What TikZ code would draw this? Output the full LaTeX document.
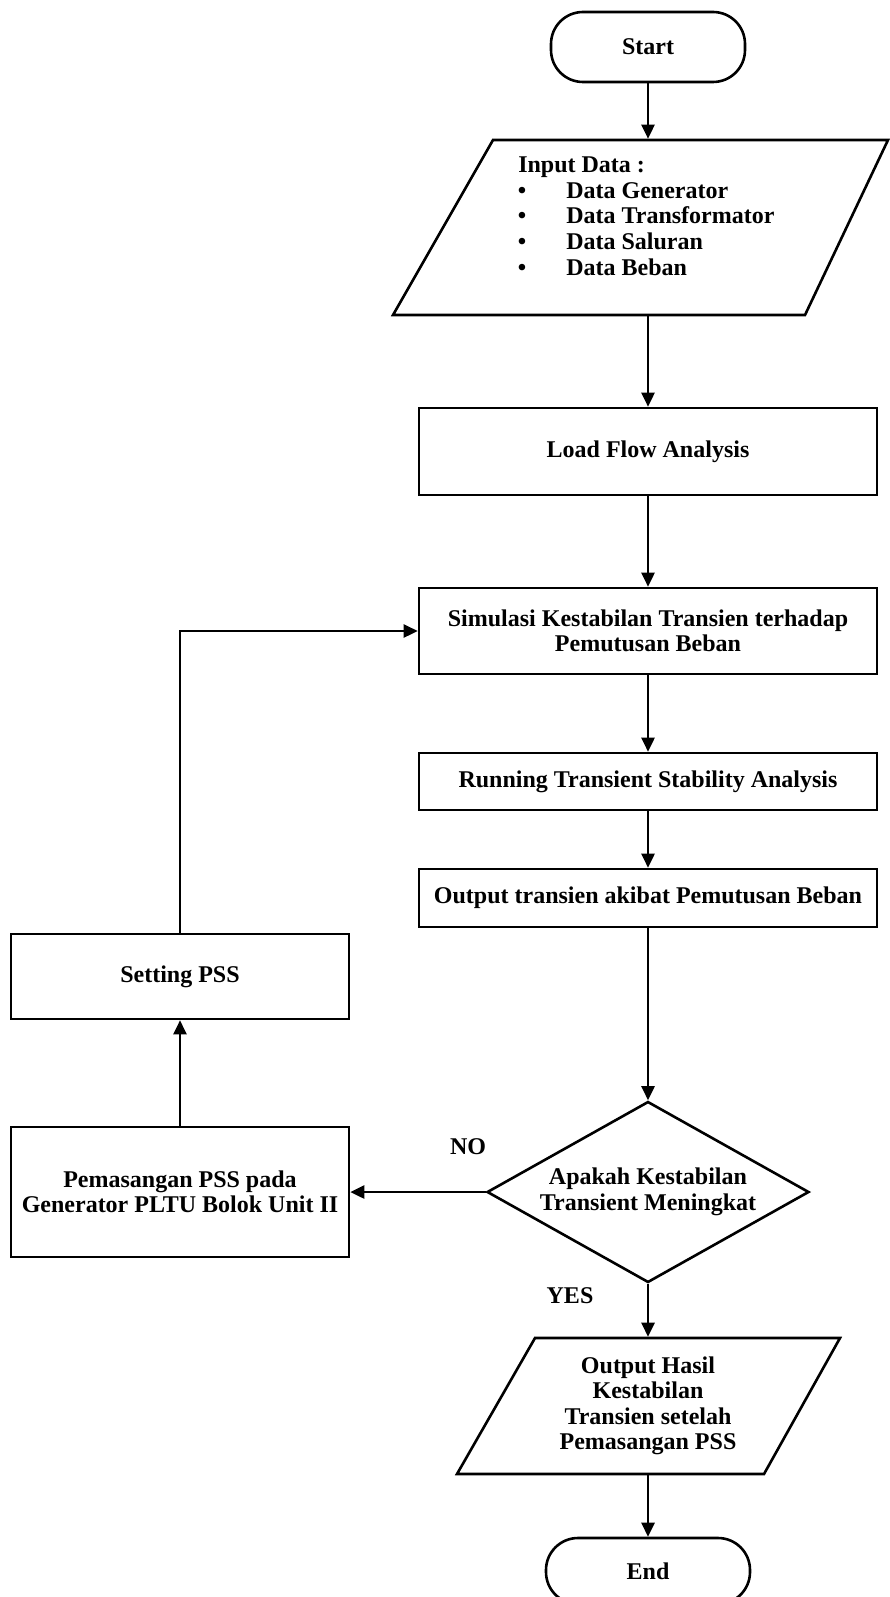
\documentclass[tikz,border=0pt]{standalone}
\usepackage{fontspec}
\setmainfont{Liberation Serif}
\usetikzlibrary{shapes.geometric, arrows.meta}
\begin{document}
\begin{tikzpicture}[x=1pt,y=-1pt,
  font=\fontsize{24pt}{25.5pt}\selectfont\bfseries,
  line width=2.6pt,
  box/.style={draw, rectangle, inner sep=0pt, align=center},
  term/.style={draw, rectangle, rounded corners=32pt, inner sep=0pt},
  dec/.style={draw, diamond, aspect=1.78, inner sep=0pt, align=center, minimum width=322pt, minimum height=181pt},
  arr/.style={-{Triangle[length=14pt,width=13pt]}},
  lbl/.style={inner sep=0pt, anchor=base west},
  bul/.style={inner sep=0pt, anchor=base},
]
\clip (0,0) rectangle (890,1597);
\fill[white] (0,0) rectangle (890,1597);

% Start
\node[term, minimum width=194pt, minimum height=70pt] (start) at (648,47) {Start};

% Input parallelogram
\draw (493,140) -- (888,140) -- (805,315) -- (393,315) -- cycle;
\node[inner sep=0pt, minimum height=175pt, minimum width=2pt] (input) at (648,227.5) {};
\node[lbl] (inhead) at (517,173) {Input Data :};
\node[bul] (b1) at (522,198.5) {\textbullet};
\node[lbl] (i1) at (565,198.5) {Data Generator};
\node[bul] (b2) at (522,224) {\textbullet};
\node[lbl] (i2) at (565,224) {Data Transformator};
\node[bul] (b3) at (522,249.5) {\textbullet};
\node[lbl] (i3) at (565,249.5) {Data Saluran};
\node[bul] (b4) at (522,275) {\textbullet};
\node[lbl] (i4) at (565,275) {Data Beban};

% Main column
\node[box, minimum width=458pt, minimum height=87pt] (load) at (648,451.5) {Load Flow Analysis};
\node[box, minimum width=458pt, minimum height=86pt] (sim) at (648,631) {Simulasi Kestabilan Transien terhadap\\Pemutusan Beban};
\node[box, minimum width=458pt, minimum height=57pt] (run) at (648,781.5) {Running Transient Stability Analysis};
\node[box, minimum width=458pt, minimum height=58pt] (out) at (648,898) {Output transien akibat Pemutusan Beban};
\node[dec] (dec) at (648,1192) {Apakah Kestabilan\\Transient Meningkat};

% Left column
\node[box, minimum width=338pt, minimum height=85pt] (set) at (180,976.5) {Setting PSS};
\node[box, minimum width=338pt, minimum height=130pt] (pas) at (180,1192) {Pemasangan PSS pada\\Generator PLTU Bolok Unit II};

% Output hasil parallelogram
\draw (535,1338) -- (840,1338) -- (764,1474) -- (457,1474) -- cycle;
\node[inner sep=0pt, minimum height=136pt, align=center] (hasil) at (648,1406) {Output Hasil\\Kestabilan\\Transien setelah\\Pemasangan PSS};

% End
\node[term, minimum width=204pt, minimum height=66pt] (end) at (648,1571) {End};

% Labels
\node[inner sep=0pt] (no) at (468,1147) {NO};
\node[inner sep=0pt] (yes) at (570,1296) {YES};

% Connectors
\draw[arr] (start.south) -- (input.north);
\draw[arr] (input.south) -- (load.north);
\draw[arr] (load.south) -- (sim.north);
\draw[arr] (sim.south) -- (run.north);
\draw[arr] (run.south) -- (out.north);
\draw[arr] (out.south) -- (dec.north);
\draw[arr] (dec.south) -- (hasil.north);
\draw[arr] (hasil.south) -- (end.north);
\draw[arr] (dec.west) -- (pas.east);
\draw[arr] (pas.north) -- (set.south);
\draw[arr] (set.north) |- (sim.west);
\end{tikzpicture}
\end{document}
